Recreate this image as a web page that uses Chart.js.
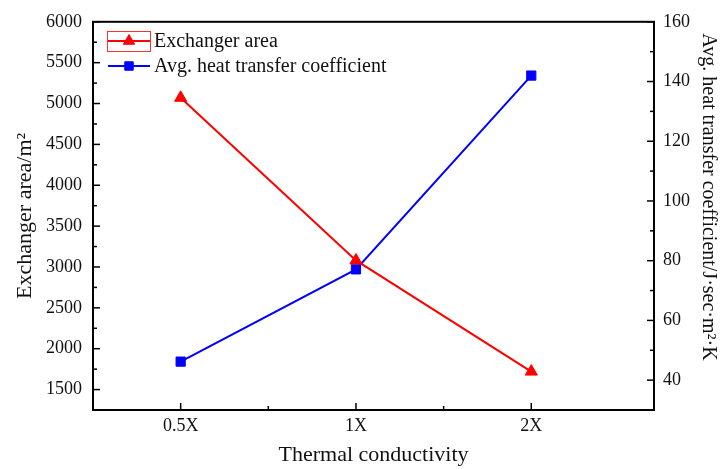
<!DOCTYPE html>
<html>
<head>
<meta charset="utf-8">
<script src="https://cdn.jsdelivr.net/npm/chart.js@4.4.0/dist/chart.umd.min.js"></script>
<style>
  html, body { margin: 0; padding: 0; background: #fff; }
  #wrap { width: 725px; height: 469px; }
</style>
</head>
<body>
<div id="wrap"><canvas id="chart" width="725" height="469"></canvas></div>
<script>
// data
const categories = ["0.5X", "1X", "2X"];
const areaValues = [5070, 3080, 1720];
const coefValues = [46.2, 77.1, 142];

const serif = "'Liberation Serif', 'Times New Roman', serif";

function pts(vals) {
  return vals.map((v, i) => ({ x: i, y: v }));
}

// ticks pointing into the plot, plus the black frame
const frameTicks = {
  id: "frameTicks",
  afterDatasetsDraw(chart) {
    const ctx = chart.ctx;
    const a = chart.chartArea;
    ctx.save();
    ctx.strokeStyle = "#000";
    ctx.lineWidth = 1.5;
    const y1 = chart.scales.y;
    y1.ticks.forEach(t => {
      const p = y1.getPixelForValue(t.value);
      const len = t.value % 500 === 0 ? 7 : 4;
      ctx.beginPath(); ctx.moveTo(a.left, p); ctx.lineTo(a.left + len, p); ctx.stroke();
    });
    const y2 = chart.scales.y2;
    y2.ticks.forEach(t => {
      const p = y2.getPixelForValue(t.value);
      const len = t.value % 20 === 0 ? 7 : 4;
      ctx.beginPath(); ctx.moveTo(a.right, p); ctx.lineTo(a.right - len, p); ctx.stroke();
    });
    const xs = chart.scales.x;
    xs.ticks.forEach(t => {
      if (t.value < 0 || t.value > 2) return;
      const p = xs.getPixelForValue(t.value);
      const len = Number.isInteger(t.value) ? 7 : 4;
      ctx.beginPath(); ctx.moveTo(p, a.bottom); ctx.lineTo(p, a.bottom - len); ctx.stroke();
    });
    ctx.lineWidth = 2;
    ctx.strokeRect(a.left, a.top, a.right - a.left, a.bottom - a.top);

    // right axis title, sits a bit above the middle in the original
    ctx.translate(708, 197);
    ctx.rotate(Math.PI / 2);
    ctx.fillStyle = "#111";
    ctx.font = "20px " + serif;
    ctx.textAlign = "center";
    ctx.textBaseline = "middle";
    ctx.fillText("Avg. heat transfer coefficient/J·sec·m²·K", 0, 0);
    ctx.restore();
  }
};

// legend like the original (line + marker, red outline on the first one)
const plotLegend = {
  id: "plotLegend",
  afterDraw(chart) {
    const ctx = chart.ctx;
    ctx.save();
    const rows = [
      { ds: 0, y: 41 },
      { ds: 1, y: 66 }
    ];
    rows.forEach(r => {
      const d = chart.data.datasets[r.ds];
      ctx.strokeStyle = d.borderColor;
      ctx.lineWidth = 2;
      ctx.beginPath(); ctx.moveTo(108, r.y); ctx.lineTo(150, r.y); ctx.stroke();
      ctx.fillStyle = d.borderColor;
      ctx.lineWidth = 1;
      Chart.helpers.drawPoint(ctx, { pointStyle: d.pointStyle, radius: d.pointRadius - 0.5, borderWidth: 1 }, 129, r.y);
      ctx.fillStyle = "#111";
      ctx.font = "20px " + serif;
      ctx.textBaseline = "middle";
      ctx.textAlign = "left";
      ctx.fillText(d.label, 154, r.y + 1);
    });
    ctx.strokeStyle = "#ff3030";
    ctx.lineWidth = 1;
    ctx.strokeRect(107.5, 31.5, 43, 20);
    ctx.restore();
  }
};

new Chart(document.getElementById("chart"), {
  type: "line",
  data: {
    datasets: [
      {
        label: "Exchanger area",
        data: pts(areaValues),
        yAxisID: "y",
        borderColor: "#ff0000",
        backgroundColor: "#ff0000",
        borderWidth: 2,
        pointStyle: "triangle",
        pointRadius: 7,
        pointBorderWidth: 1,
        order: 0
      },
      {
        label: "Avg. heat transfer coefficient",
        data: pts(coefValues),
        yAxisID: "y2",
        borderColor: "#0000ff",
        backgroundColor: "#0000ff",
        borderWidth: 2,
        pointStyle: "rect",
        pointRadius: 6.5,
        pointBorderWidth: 1,
        order: 1
      }
    ]
  },
  options: {
    responsive: false,
    animation: false,
    layout: { padding: { top: 20, left: 0, right: 0, bottom: 0 } },
    plugins: {
      legend: { display: false },
      tooltip: { enabled: false }
    },
    scales: {
      x: {
        type: "linear",
        min: -0.5,
        max: 2.7,
        afterFit: s => { s.height = 59; },
        grid: { display: false, drawTicks: false },
        border: { display: false },
        ticks: {
          stepSize: 0.5,
          autoSkip: false,
          maxRotation: 0,
          padding: 5,
          color: "#111",
          font: { family: serif, size: 18 },
          callback: v => Number.isInteger(v) && v >= 0 && v <= 2 ? categories[v] : ""
        },
        title: {
          display: true,
          text: "Thermal conductivity",
          color: "#111",
          font: { family: serif, size: 22 },
          padding: { top: 0, bottom: 1 }
        }
      },
      y: {
        position: "left",
        min: 1250,
        max: 6000,
        afterFit: s => { s.width = 93; },
        grid: { display: false, drawTicks: false },
        border: { display: false },
        ticks: {
          stepSize: 250,
          autoSkip: false,
          padding: 11,
          color: "#111",
          font: { family: serif, size: 18 },
          callback: v => v % 500 === 0 ? v : ""
        },
        title: {
          display: true,
          text: "Exchanger area/m²",
          color: "#111",
          font: { family: serif, size: 22 },
          padding: { top: 12, bottom: 0 }
        }
      },
      y2: {
        position: "right",
        min: 30,
        max: 160,
        afterFit: s => { s.width = 71; },
        grid: { display: false, drawTicks: false },
        border: { display: false },
        ticks: {
          stepSize: 10,
          autoSkip: false,
          padding: 9,
          color: "#111",
          font: { family: serif, size: 18 },
          callback: v => v % 20 === 0 ? v : ""
        }
      }
    }
  },
  plugins: [frameTicks, plotLegend]
});
</script>
</body>
</html>
